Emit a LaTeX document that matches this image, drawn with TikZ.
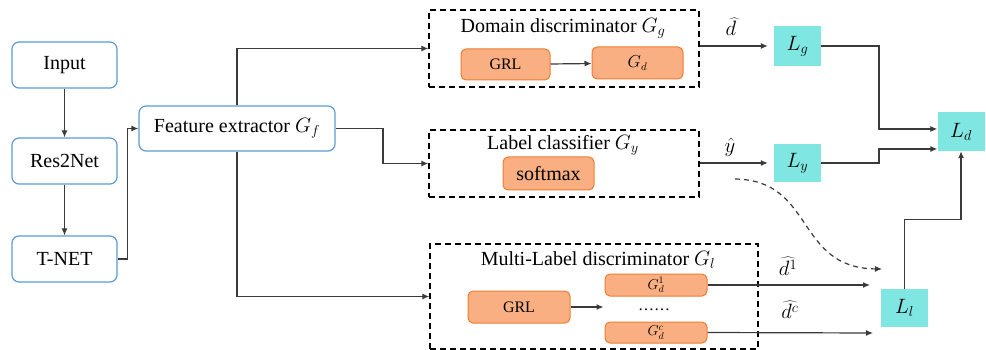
\documentclass[tikz,border=0pt]{standalone}
\usepackage{fontspec}
\setmainfont{LiberationSerif}[Extension=.ttf,UprightFont=*-Regular,ItalicFont=*-Italic,BoldFont=*-Bold,BoldItalicFont=*-BoldItalic]
\usetikzlibrary{arrows.meta,positioning,calc}
\definecolor{bluedraw}{HTML}{5B9BD5}
\definecolor{orfill}{HTML}{F9AF82}
\definecolor{ordraw}{HTML}{ED7D31}
\definecolor{cyfill}{HTML}{80E6E1}
\definecolor{linec}{HTML}{3A3A3A}
\begin{document}
\begin{tikzpicture}[x=1pt,y=-1pt,
  bluebox/.style={draw=bluedraw,line width=1.2pt,rounded corners=7pt,fill=white,
    minimum width=105pt,minimum height=46pt,inner sep=0pt,font=\fontsize{20}{24}\selectfont},
  orbox/.style={draw=ordraw,fill=orfill,line width=1pt,rounded corners=5pt,inner sep=0pt,
    font=\fontsize{16}{19}\selectfont},
  cybox/.style={fill=cyfill,minimum width=47pt,minimum height=39pt,inner sep=0pt,
    font=\fontsize{20}{24}\selectfont},
  dbox/.style={draw=black,line width=1.4pt,dash pattern=on 6pt off 4pt,inner sep=0pt},
  ttl/.style={font=\fontsize{20}{24}\selectfont,inner sep=0pt},
  lbl/.style={font=\fontsize{21}{24}\selectfont,inner sep=0pt},
  conn/.style={draw=linec,line width=1.2pt,-{Latex[length=7pt,width=6pt]}},
  plain/.style={draw=linec,line width=1.2pt}
]
\useasboundingbox (0,0) rectangle (986,350);
% left column
\node[bluebox] (input) at (64.5,65) {Input};
\node[bluebox] (res) at (64.5,161) {Res2Net};
\node[bluebox] (tnet) at (64.5,259) {T-NET};
\node[bluebox,minimum width=196pt,minimum height=45pt] (feat) at (237,128.5) {Feature extractor $G_f$};
% dashed containers
\node[dbox,minimum width=270pt,minimum height=77pt] (dom) at (564,48.5) {};
\node[dbox,minimum width=270pt,minimum height=67pt] (lab) at (564,163.5) {};
\node[dbox,minimum width=328pt,minimum height=105pt] (mul) at (594,296.5) {};
\node[ttl] (domt) at (563,28) {Domain discriminator $G_g$};
\node[ttl] (labt) at (563,145) {Label classifier $G_y$};
\node[ttl] (mult) at (598,260) {Multi-Label discriminator $G_l$};
% inner boxes
\node[orbox,minimum width=89pt,minimum height=31pt] (grl1) at (505.5,64.5) {GRL};
\node[orbox,minimum width=91pt,minimum height=32pt] (gd) at (637.5,63) {$G_d$};
\node[orbox,minimum width=91pt,minimum height=33pt,font=\fontsize{20}{24}\selectfont] (soft) at (548.5,173.5) {softmax};
\node[orbox,minimum width=102pt,minimum height=32pt] (grl2) at (519,307) {GRL};
\node[orbox,minimum width=102pt,minimum height=22pt,font=\fontsize{14}{16}\selectfont] (gd1) at (656,285) {$G_d^1$};
\node[orbox,minimum width=102pt,minimum height=21pt,font=\fontsize{14}{16}\selectfont] (gdc) at (656,332.5) {$G_d^c$};
\node[inner sep=0pt,font=\fontsize{16}{19}\selectfont] (dots) at (654,310) {……};
% loss boxes
\node[cybox,minimum height=40pt] (lg) at (797.5,46) {$L_g$};
\node[cybox,minimum height=38pt] (ly) at (797.5,163) {$L_y$};
\node[cybox] (ld) at (961,131.5) {$L_d$};
\node[cybox,minimum height=38pt] (ll) at (904.5,308) {$L_l$};
% output labels
\node[lbl] (dhat) at (731,27) {$\widehat{d}$};
\node[lbl] (yhat) at (730,147) {$\hat{y}$};
\node[lbl] (d1hat) at (788,266) {$\widehat{d^1}$};
\node[lbl] (dchat) at (790,310) {$\widehat{d^c}$};
% coordinates
\coordinate (e1) at (870,285);
\coordinate (e2) at (873,333);
\coordinate (cs) at (735,179);
\coordinate (ce) at (882,269);
% connectors
\draw[conn] (input) -- (res);
\draw[conn] (res) -- (tnet);
\draw[conn] (tnet.east) -- ++(10,0) |- (feat.west);
\draw[conn] (feat.north) |- (dom.west);
\draw[conn] (feat.south) |- (mul.west);
\draw[conn] (feat.east) -- (383,128.5) |- (lab.west);
\draw[conn] (grl1) -- (gd);
\draw[conn] (grl2.east) -- ++(33,0);
\draw[conn,shorten >=6pt] (dom.east |- lg.west) -- (lg.west);
\draw[conn,shorten >=6pt] (lab.east |- ly.west) -- (ly.west);
\draw[conn] (lg.east) -- (879,46) |- ([yshift=2.5pt]ld.west);
\draw[conn] (ly.east) -- (879,163) |- ([yshift=-17.5pt]ld.west);
\draw[conn] (gd1.east) -- (e1);
\draw[conn] (gdc.east) -- (e2);
\draw[conn] (ll.north) -- ++(0,-69) -| (ld.south);
\draw[conn,dash pattern=on 5pt off 4pt] (cs) .. controls (815,180) and (795,268) .. (ce);
\end{tikzpicture}
\end{document}
